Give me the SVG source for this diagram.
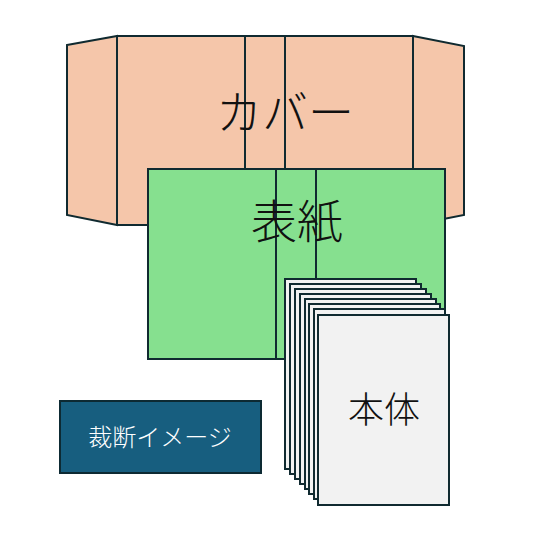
<svg xmlns="http://www.w3.org/2000/svg" width="541" height="556" viewBox="0 0 541 556">
<style>
.ln{stroke:#102a30;stroke-width:2;stroke-linejoin:miter}
.cov{fill:#F5C6AA}
.hy{fill:#86E08F}
.pg{fill:#F2F2F2}
.t{font-family:"Noto Sans CJK JP","Noto Sans",sans-serif;fill:#111;font-weight:300}
</style>
<rect width="541" height="556" fill="#fff"/>
<g id="cover">
<polygon class="cov ln" points="67,45 117,36 117,225 67,215"/>
<polygon class="cov ln" points="413,36 464,46 464,215 413,225"/>
<rect class="cov ln" x="117" y="36" width="296" height="189"/>
<line class="ln" x1="245" y1="36" x2="245" y2="169"/>
<line class="ln" x1="285" y1="36" x2="285" y2="169"/>
<text class="t" x="285" y="129" font-size="46" text-anchor="middle">カバー</text>
</g>
<g id="hyoshi">
<rect class="hy ln" x="148" y="169" width="297" height="190"/>
<line class="ln" x1="276" y1="169" x2="276" y2="359"/>
<line class="ln" x1="316" y1="169" x2="316" y2="359"/>
<text class="t" x="297" y="238" font-size="46" text-anchor="middle">表紙</text>
</g>
<g id="honbun">
<rect class="pg ln" x="285" y="279" width="131" height="190"/>
<rect class="pg ln" x="290" y="284" width="131" height="190"/>
<rect class="pg ln" x="295" y="289" width="131" height="190"/>
<rect class="pg ln" x="300" y="294" width="131" height="190"/>
<rect class="pg ln" x="305" y="299" width="131" height="190"/>
<rect class="pg ln" x="309" y="304" width="131" height="190"/>
<rect class="pg ln" x="314" y="309" width="131" height="190"/>
<rect class="pg ln" x="318" y="315" width="131" height="190"/>
<text class="t" x="384" y="423" font-size="36" text-anchor="middle">本体</text>
</g>
<g id="label">
<rect x="60" y="401" width="201" height="72" fill="#175E7F" stroke="#0d2a33" stroke-width="2"/>
<text x="160" y="446" font-size="24" font-weight="300" text-anchor="middle" fill="#fff" font-family="Noto Sans CJK JP,sans-serif">裁断イメージ</text>
</g>
</svg>
